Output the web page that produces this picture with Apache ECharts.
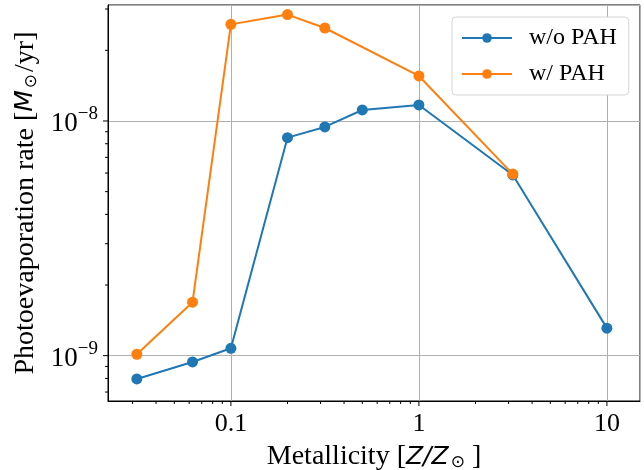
<!DOCTYPE html>
<html>
<head>
<meta charset="utf-8">
<script src="https://cdn.jsdelivr.net/npm/echarts@6/dist/echarts.min.js"></script>
<style>html,body{margin:0;padding:0;background:#fff;}#c{width:644px;height:470px;}</style>
</head>
<body>
<div id="c"></div>
<script>
// ---- data ----
const seriesNames = ['w/o PAH', 'w/ PAH'];
const zNoPAH = [0.0316, 0.0625, 0.1, 0.2, 0.316, 0.5, 1, 3.16, 10];
const rateNoPAH = [7.96e-10, 9.4e-10, 1.075e-9, 8.49e-9, 9.43e-9, 1.114e-8, 1.17e-8, 5.89e-9, 1.31e-9];
const zPAH = [0.0316, 0.0625, 0.1, 0.2, 0.316, 1, 3.16];
const ratePAH = [1.014e-9, 1.69e-9, 2.58e-8, 2.84e-8, 2.49e-8, 1.555e-8, 5.94e-9];
const xMajorTicks = [0.1, 1, 10];
const xMinorTicks = [0.03,0.04,0.05,0.06,0.07,0.08,0.09,0.2,0.3,0.4,0.5,0.6,0.7,0.8,0.9,2,3,4,5,6,7,8,9];
const yMajorTicks = [1e-9, 1e-8];
const yMinorTicks = [7e-10,8e-10,9e-10,2e-9,3e-9,4e-9,5e-9,6e-9,7e-9,8e-9,9e-9,2e-8,3e-8];
const X_MIN = 0.0222, X_MAX = 15.0;
const Y_MIN = 6.41e-10, Y_MAX = 3.12e-8;

const SERIF = 'Liberation Serif';
const colors = ['#1f77b4', '#ff7f0e'];

function isPow10(v) {
  const e = Math.log10(v);
  return Math.abs(e - Math.round(e)) < 1e-6;
}

function tickSeries(vals, axis, len) {
  return {
    type: 'custom', coordinateSystem: 'cartesian2d', silent: true, clip: false, z: 5,
    data: vals.map(v => axis === 'x' ? [v, Y_MIN] : [X_MIN, v]),
    renderItem: function (params, api) {
      const p = api.coord([api.value(0), api.value(1)]);
      const shape = axis === 'x'
        ? { x1: p[0], y1: p[1], x2: p[0], y2: p[1] + len }
        : { x1: p[0], y1: p[1], x2: p[0] - len, y2: p[1] };
      return { type: 'line', shape: shape, style: { stroke: '#000', lineWidth: 1 } };
    }
  };
}

const chart = echarts.init(document.getElementById('c'), null, { renderer: 'canvas' });
chart.setOption({
  animation: false,
  color: colors,
  grid: { left: 108, right: 4, top: 5, bottom: 69, show: true, borderColor: '#000', borderWidth: 1,
          backgroundColor: 'transparent', containLabel: false, outerBoundsMode: 'none' },
  legend: {
    data: seriesNames,
    orient: 'vertical',
    left: 452, top: 17,
    padding: [9, 12, 9, 9],
    itemGap: 12,
    itemWidth: 50, itemHeight: 12,
    backgroundColor: '#fff',
    borderColor: '#d5d5d5', borderWidth: 1, borderRadius: 4,
    textStyle: { fontFamily: SERIF, fontSize: 24, color: '#000', padding: [0, 0, 0, 12] }
  },
  xAxis: {
    type: 'log', logBase: 10, min: X_MIN, max: X_MAX,
    name: '{a|Metallicity [}{i|Z/Z}{s|⊙}{a| ]}',
    nameLocation: 'middle', nameGap: 42,
    nameTextStyle: {
      rich: {
        a: { fontFamily: SERIF, fontSize: 28, color: '#000' },
        i: { fontFamily: 'DejaVu Sans', fontStyle: 'italic', fontSize: 25, color: '#000' },
        s: { fontFamily: 'DejaVu Sans', fontSize: 17, color: '#000', verticalAlign: 'bottom', padding: [8, 0, 0, 2] }
      }
    },
    axisLine: { show: true, lineStyle: { color: '#000', width: 1 } },
    axisTick: { show: false },
    axisLabel: {
      margin: 10, fontFamily: SERIF, fontSize: 26, color: '#000',
      formatter: v => isPow10(v) ? String(Number(v.toPrecision(6))) : ''
    },
    splitLine: { show: true, lineStyle: { color: '#b0b0b0', width: 1 } }
  },
  yAxis: {
    type: 'log', logBase: 10, min: Y_MIN, max: Y_MAX,
    name: '{a|Photoevaporation rate [}{i|M}{s|⊙}{a|/yr]}',
    nameLocation: 'middle', nameGap: 68, nameRotate: 90,
    nameTextStyle: {
      rich: {
        a: { fontFamily: SERIF, fontSize: 28, color: '#000' },
        i: { fontFamily: 'DejaVu Sans', fontStyle: 'italic', fontSize: 25, color: '#000' },
        s: { fontFamily: 'DejaVu Sans', fontSize: 17, color: '#000', verticalAlign: 'bottom', padding: [8, 2, 0, 2] }
      }
    },
    axisLine: { show: true, lineStyle: { color: '#000', width: 1 } },
    axisTick: { show: false },
    axisLabel: {
      margin: 10, color: '#000',
      formatter: function (v) {
        if (!isPow10(v)) return '';
        const e = Math.round(Math.log10(v));
        return '{b|10}{e|\u2212' + Math.abs(e) + '}';
      },
      rich: {
        b: { fontFamily: SERIF, fontSize: 27, color: '#000', verticalAlign: 'bottom', lineHeight: 30 },
        e: { fontFamily: SERIF, fontSize: 19, color: '#000', verticalAlign: 'top', padding: [0, 0, 14, 0] }
      }
    },
    splitLine: { show: true, lineStyle: { color: '#b0b0b0', width: 1 } }
  },
  series: [
    {
      name: seriesNames[0], type: 'line', symbol: 'circle', symbolSize: 11,
      lineStyle: { width: 2 }, itemStyle: { color: colors[0] },
      data: zNoPAH.map((z, i) => [z, rateNoPAH[i]]), z: 3
    },
    {
      name: seriesNames[1], type: 'line', symbol: 'circle', symbolSize: 11,
      lineStyle: { width: 2 }, itemStyle: { color: colors[1] },
      data: zPAH.map((z, i) => [z, ratePAH[i]]), z: 4
    },
    tickSeries(xMajorTicks, 'x', 5),
    tickSeries(xMinorTicks, 'x', 3),
    tickSeries(yMajorTicks, 'y', 5),
    tickSeries(yMinorTicks, 'y', 3)
  ]
});
</script>
</body>
</html>
